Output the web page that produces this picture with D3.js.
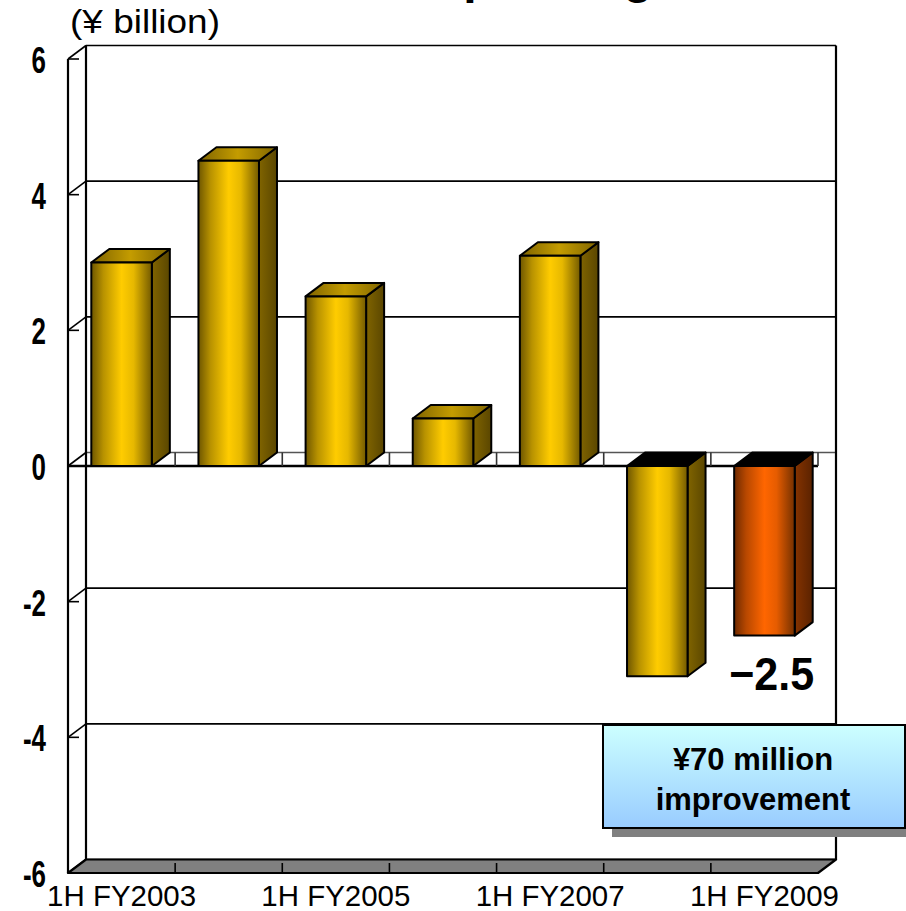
<!DOCTYPE html>
<html>
<head>
<meta charset="utf-8">
<script src="https://cdn.jsdelivr.net/npm/d3@7"></script>
<style>
  html, body { margin: 0; padding: 0; background: #fff; }
  svg { display: block; font-family: "Liberation Sans", Arial, sans-serif; }
</style>
</head>
<body>
<svg id="chart" width="906" height="911"></svg>
<script>
// Half-year operating results, ¥ billion
const categories = ["1H FY2003", "1H FY2004", "1H FY2005", "1H FY2006", "1H FY2007", "1H FY2008", "1H FY2009"];
const values = [3.0, 4.5, 2.5, 0.7, 3.1, -3.1, -2.5];
const barTone = ["gold", "gold", "gold", "gold", "gold", "gold", "orange"];
const yTicks = [-6, -4, -2, 0, 2, 4, 6];
const xTickLabels = ["1H FY2003", "1H FY2005", "1H FY2007", "1H FY2009"];
const labelledIndex = 6;
const unitText = "(¥ billion)";
const titleText = "Operating Income";
const calloutLines = ["¥70 million", "improvement"];

const svg = d3.select("#chart");
const defs = svg.append("defs");

// plot frame (front plane) and 3D depth offset
const pLeft = 68, pRight = 818, pTop = 59, pBottom = 873;
const DX = 18, DY = -13.5;

const y = d3.scaleLinear().domain([-6, 6]).range([pBottom, pTop]);
const slot = d3.scaleBand().domain(categories).range([pLeft, pRight]).padding(0);
const x = d3.scaleBand().domain(categories).range([pLeft, pRight])
  .paddingInner(0.435).paddingOuter(0.2175);

// gradients
function hGrad(id, stops) {
  const g = defs.append("linearGradient").attr("id", id)
    .attr("x1", "0%").attr("x2", "100%").attr("y1", "0%").attr("y2", "0%");
  stops.forEach(([o, c]) => g.append("stop").attr("offset", o).attr("stop-color", c));
}
hGrad("gold-front", [["0%", "#6e5600"], ["20%", "#b89200"], ["50%", "#ffcc00"], ["70%", "#e6b800"], ["100%", "#735a00"]]);
hGrad("gold-side", [["0%", "#806400"], ["100%", "#5a4600"]]);
hGrad("gold-top", [["0%", "#7d6200"], ["50%", "#c49c00"], ["100%", "#806500"]]);
hGrad("orange-front", [["0%", "#6e2a00"], ["20%", "#b84800"], ["50%", "#ff6600"], ["70%", "#e65c00"], ["100%", "#733000"]]);
hGrad("orange-side", [["0%", "#853300"], ["100%", "#5a2200"]]);
hGrad("orange-top", [["0%", "#7d3000"], ["50%", "#c45000"], ["100%", "#803200"]]);
const vg = defs.append("linearGradient").attr("id", "callout-fill")
  .attr("x1", "0%").attr("x2", "0%").attr("y1", "0%").attr("y2", "100%");
vg.append("stop").attr("offset", "0%").attr("stop-color", "#ccffff");
vg.append("stop").attr("offset", "100%").attr("stop-color", "#99ccff");

const line = d3.line();
const poly = pts => "M" + pts.map(p => p.join(",")).join("L") + "Z";

// title (sits above the page edge)
svg.append("text").attr("x", 426).attr("y", -7)
  .attr("font-size", 48).attr("font-weight", "bold").text(titleText);

// unit label
svg.append("text").attr("x", 70).attr("y", 33)
  .attr("font-size", 33).attr("textLength", 150).attr("lengthAdjust", "spacingAndGlyphs")
  .text(unitText);

const walls = svg.append("g");

// back wall
walls.append("rect")
  .attr("x", pLeft + DX).attr("y", pTop + DY)
  .attr("width", pRight - pLeft).attr("height", pBottom - pTop)
  .attr("fill", "#fff").attr("stroke", "none");

// back-wall gridlines and side-wall diagonals
yTicks.forEach(t => {
  walls.append("path")
    .attr("d", line([[pLeft + DX, y(t) + DY], [pRight + DX, y(t) + DY]]))
    .attr("stroke", t === 0 ? "#555" : "#000").attr("stroke-width", 1.6).attr("fill", "none");
  walls.append("path")
    .attr("d", line([[pLeft, y(t)], [pLeft + DX, y(t) + DY]]))
    .attr("stroke", "#000").attr("stroke-width", 1.6).attr("fill", "none");
  walls.append("path")
    .attr("d", line([[pLeft, y(t)], [pLeft + 11, y(t)]]))
    .attr("stroke", "#000").attr("stroke-width", 1.6).attr("fill", "none");
});

// wall edges
walls.append("path").attr("d", line([[pLeft + DX, pTop + DY], [pLeft + DX, pBottom + DY]]))
  .attr("stroke", "#000").attr("stroke-width", 2.2).attr("fill", "none");
walls.append("path").attr("d", line([[pLeft, pTop], [pLeft, pBottom]]))
  .attr("stroke", "#000").attr("stroke-width", 2.2).attr("fill", "none");
walls.append("path").attr("d", line([[pRight + DX, pTop + DY], [pRight + DX, pBottom + DY]]))
  .attr("stroke", "#000").attr("stroke-width", 2.2).attr("fill", "none");

// floor at the bottom of the value range
walls.append("path")
  .attr("d", poly([[pLeft, pBottom], [pRight, pBottom], [pRight + DX, pBottom + DY], [pLeft + DX, pBottom + DY]]))
  .attr("fill", "#808080").attr("stroke", "#000").attr("stroke-width", 2.2)
  .attr("stroke-linejoin", "round");
categories.slice(1).forEach(c => {
  walls.append("path").attr("d", line([[slot(c), pBottom], [slot(c), pBottom - 10]]))
    .attr("stroke", "#000").attr("stroke-width", 1.6);
});

// category plane at zero
const y0 = y(0);
walls.append("path").attr("d", line([[pLeft, y0], [pRight, y0]]))
  .attr("stroke", "#000").attr("stroke-width", 2.4);
categories.forEach((c, i) => {
  const sx = slot(c) + slot.bandwidth();
  walls.append("path").attr("d", line([[sx, y0], [sx, y0 + DY]]))
    .attr("stroke", "#333").attr("stroke-width", 1.6);
});

// bars
const bars = svg.append("g");
values.forEach((v, i) => {
  const c = categories[i];
  const tone = barTone[i];
  const bx = x(c), bw = x.bandwidth();
  const yTop = y(Math.max(v, 0)), yBot = y(Math.min(v, 0));
  const g = bars.append("g").attr("stroke", "#000").attr("stroke-width", 2)
    .attr("stroke-linejoin", "round");
  // side face
  g.append("path")
    .attr("d", poly([[bx + bw, yTop], [bx + bw + DX, yTop + DY], [bx + bw + DX, yBot + DY], [bx + bw, yBot]]))
    .attr("fill", `url(#${tone}-side)`);
  // top face: shaded cap for positive bars, dark opening for negative bars
  g.append("path")
    .attr("d", poly([[bx, yTop], [bx + DX, yTop + DY], [bx + bw + DX, yTop + DY], [bx + bw, yTop]]))
    .attr("fill", v >= 0 ? `url(#${tone}-top)` : "#000");
  // front face
  g.append("rect")
    .attr("x", bx).attr("y", yTop).attr("width", bw).attr("height", yBot - yTop)
    .attr("fill", `url(#${tone}-front)`);
});

// value axis labels, condensed bold
const yl = svg.append("g").attr("font-weight", "bold").attr("font-size", 36).attr("text-anchor", "end");
yTicks.forEach(t => {
  const txt = yl.append("text").attr("x", 46).attr("y", y(t) + 14).text(String(t));
  const w = txt.node().getComputedTextLength();
  txt.attr("textLength", w * 0.72).attr("lengthAdjust", "spacingAndGlyphs");
});

// category labels
const xl = svg.append("g").attr("font-size", 30).attr("text-anchor", "middle");
xTickLabels.forEach(c => {
  xl.append("text").attr("x", slot(c) + slot.bandwidth() / 2).attr("y", 906)
    .attr("textLength", 149).attr("lengthAdjust", "spacingAndGlyphs").text(c);
});

// value label on the latest bar
const fmt = d3.format(".1f");
const lc = categories[labelledIndex];
svg.append("text")
  .attr("x", x(lc) - 5).attr("y", y(values[labelledIndex]) + 54)
  .attr("font-size", 46).attr("font-weight", "bold")
  .attr("textLength", 85).attr("lengthAdjust", "spacingAndGlyphs")
  .text(fmt(values[labelledIndex]));

// callout
const box = { x: 603, y: 725, w: 302, h: 103 };
svg.append("rect").attr("x", box.x + 9).attr("y", box.y + 9)
  .attr("width", box.w).attr("height", box.h).attr("fill", "#808080");
svg.append("rect").attr("x", box.x).attr("y", box.y)
  .attr("width", box.w).attr("height", box.h)
  .attr("fill", "url(#callout-fill)").attr("stroke", "#000").attr("stroke-width", 2);
const ct = svg.append("g").attr("font-size", 31).attr("font-weight", "bold").attr("text-anchor", "middle");
calloutLines.forEach((s, i) => {
  ct.append("text").attr("x", 753).attr("y", 770 + i * 40).text(s);
});
</script>
</body>
</html>
